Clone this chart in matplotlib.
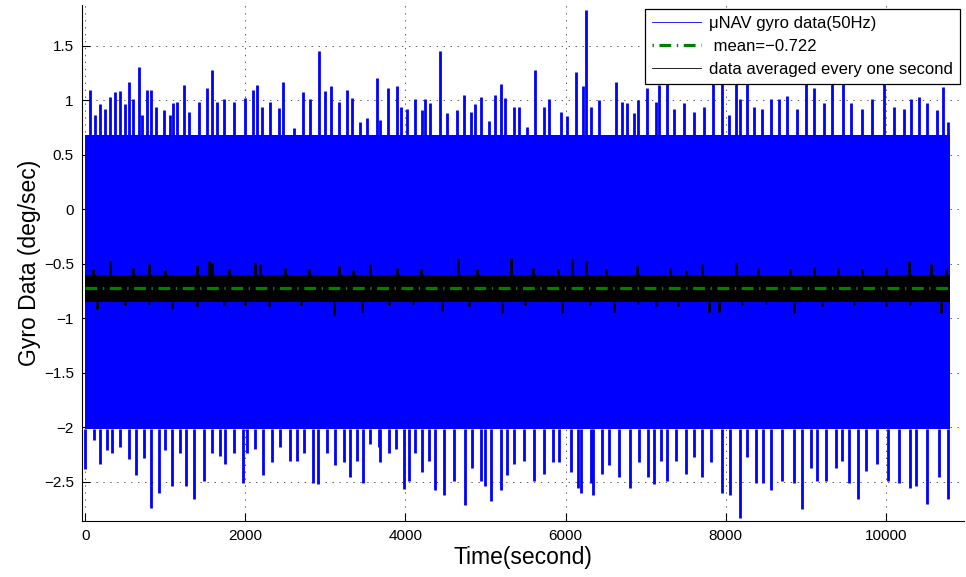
import numpy as np
import matplotlib.pyplot as plt
from matplotlib.lines import Line2D
from matplotlib.ticker import FuncFormatter

plt.rcParams['font.family'] = ['Liberation Sans', 'DejaVu Sans']
plt.rcParams['lines.scale_dashes'] = False

# --- data ---
T_END = 10800            # 3 h of 50 Hz gyro data
MEAN = -0.722

# dense part of the 50 Hz noise band (deg/sec)
BLUE_CORE = (-2.02, 0.68)

# upward spikes of the 50 Hz data (time s, value deg/sec)
UP_T = [54, 125, 188, 250, 313, 375, 438, 492, 550, 592, 667, 713, 771, 825, 888,
        979, 1054, 1096, 1146, 1229, 1292, 1417, 1521, 1588, 1646, 1729, 1854, 2000,
        2096, 2146, 2208, 2313, 2417, 2471, 2604, 2717, 2804, 2917, 3000, 3071, 3167,
        3271, 3333, 3438, 3521, 3583, 3646, 3688, 3783, 3896, 3950, 4021, 4125, 4208,
        4250, 4313, 4438, 4521, 4646, 4729, 4813, 4875, 4938, 5042, 5125, 5188, 5250,
        5354, 5417, 5521, 5613, 5729, 5792, 5938, 6021, 6125, 6217, 6250, 6313, 6417,
        6521, 6625, 6708, 6763, 6854, 6908, 7021, 7125, 7171, 7271, 7354, 7479, 7604,
        7729, 7846, 7950, 8042, 8125, 8179, 8263, 8354, 8458, 8563, 8667, 8771, 8896,
        9000, 9104, 9229, 9333, 9471, 9563, 9708, 9833, 9979, 10104, 10229, 10313,
        10417, 10521, 10646, 10721, 10783]
UP_V = [1.09, 0.86, 0.96, 0.92, 1.03, 1.07, 1.08, 0.96, 1.17, 1.01, 1.30, 0.86, 1.09,
        1.09, 0.94, 0.91, 0.86, 0.97, 0.98, 1.14, 0.89, 0.98, 1.11, 1.28, 0.98, 1.01,
        0.98, 1.02, 1.09, 1.14, 0.94, 0.98, 0.93, 1.17, 0.74, 1.07, 1.01, 1.45, 1.08,
        1.13, 0.98, 1.09, 1.02, 0.80, 0.84, 0.65, 1.20, 0.82, 1.11, 1.13, 0.94, 0.92,
        1.01, 0.91, 1.01, 0.97, 1.45, 0.88, 0.91, 1.05, 0.89, 0.96, 1.03, 0.81, 1.05,
        1.15, 1.02, 0.94, 0.94, 0.75, 1.28, 0.94, 1.01, 0.89, 0.85, 1.26, 1.13, 1.83,
        0.94, 1.00, 0.68, 1.17, 0.98, 0.97, 0.88, 1.00, 1.11, 0.98, 1.14, 1.20, 0.92,
        0.97, 0.89, 0.94, 1.25, 1.30, 0.86, 1.22, 1.01, 1.20, 0.94, 0.92, 1.01, 1.01,
        1.04, 0.92, 1.25, 1.11, 0.97, 1.22, 1.18, 0.97, 0.92, 1.01, 1.30, 0.94, 0.92,
        1.01, 1.03, 0.97, 0.91, 1.12, 0.80]

# downward spikes of the 50 Hz data
DN_T = [0, 104, 179, 271, 333, 438, 542, 638, 729, 825, 917, 1000, 1083, 1188, 1263,
        1354, 1479, 1583, 1688, 1750, 1854, 1967, 2021, 2117, 2225, 2333, 2438, 2563,
        2646, 2729, 2842, 2908, 3021, 3125, 3229, 3304, 3396, 3467, 3563, 3667, 3688,
        3792, 3888, 3979, 4042, 4125, 4208, 4292, 4375, 4488, 4604, 4750, 4833, 4938,
        5000, 5071, 5188, 5263, 5354, 5479, 5604, 5729, 5846, 5917, 6063, 6154, 6188,
        6313, 6346, 6458, 6542, 6667, 6804, 6917, 7029, 7104, 7188, 7271, 7375, 7500,
        7604, 7708, 7813, 7958, 8054, 8175, 8271, 8375, 8467, 8563, 8708, 8854, 8950,
        9063, 9146, 9250, 9375, 9458, 9542, 9654, 9750, 9896, 10029, 10167, 10304,
        10375, 10513, 10667, 10783]
DN_V = [-2.38, -2.12, -2.34, -2.21, -2.24, -2.18, -2.29, -2.44, -2.28, -2.74, -2.60,
        -2.21, -2.54, -2.24, -2.54, -2.66, -2.49, -2.24, -2.26, -2.34, -2.24, -2.51,
        -2.24, -2.20, -2.44, -2.32, -2.18, -2.31, -2.31, -2.24, -2.51, -2.52, -2.24,
        -2.35, -2.32, -2.46, -2.31, -2.51, -2.15, -2.18, -2.32, -2.24, -2.20, -2.57,
        -2.49, -2.24, -2.41, -2.31, -2.58, -2.62, -2.49, -2.71, -2.37, -2.49, -2.54,
        -2.68, -2.58, -2.44, -2.34, -2.31, -2.49, -2.43, -2.32, -2.32, -2.41, -2.56,
        -2.60, -2.51, -2.62, -2.43, -2.35, -2.46, -2.56, -2.32, -2.46, -2.52, -2.31,
        -2.49, -2.31, -2.43, -2.27, -2.46, -2.32, -2.60, -2.62, -2.83, -2.27, -2.51,
        -2.51, -2.58, -2.49, -2.51, -2.75, -2.37, -2.49, -2.49, -2.37, -2.31, -2.51,
        -2.66, -2.40, -2.34, -2.49, -2.51, -2.56, -2.54, -2.70, -2.46, -2.66]

# 1 s averaged data: dense band and its spikes
BLACK_CORE = (-0.85, -0.60)
BK_UP_T = [100, 304, 600, 800, 1000, 1396, 1542, 1583, 1800, 2125, 2188, 2500, 2800,
           3167, 3350, 3563, 3900, 4200, 4658, 4900, 5321, 5600, 5900, 6083, 6250,
           6500, 6896, 7300, 7500, 7708, 8125, 8400, 8800, 9100, 9400, 9700, 10000,
           10292, 10563, 10750]
BK_UP_V = [-0.55, -0.48, -0.54, -0.50, -0.56, -0.51, -0.48, -0.49, -0.55, -0.49, -0.50,
           -0.54, -0.55, -0.52, -0.56, -0.50, -0.54, -0.55, -0.45, -0.55, -0.45, -0.54,
           -0.55, -0.46, -0.48, -0.55, -0.52, -0.54, -0.56, -0.50, -0.49, -0.54, -0.55,
           -0.53, -0.54, -0.55, -0.54, -0.48, -0.50, -0.55]
BK_DN_T = [146, 500, 800, 1083, 1400, 1729, 2000, 2300, 2700, 3104, 3458, 3800, 4100,
           4458, 4800, 5208, 5500, 5958, 6300, 6604, 6900, 7125, 7400, 7792, 7917, 8200,
           8500, 8854, 9200, 9600, 10000, 10300, 10688]
BK_DN_V = [-0.92, -0.88, -0.87, -0.92, -0.89, -0.88, -0.88, -0.89, -0.88, -0.97, -0.94,
           -0.88, -0.87, -0.93, -0.89, -0.95, -0.88, -0.95, -0.88, -0.94, -0.87, -0.89,
           -0.89, -0.94, -0.94, -0.88, -0.87, -0.95, -0.89, -0.88, -0.89, -0.88, -0.95]

# --- figure ---
fig = plt.figure(figsize=(9.66, 5.77), dpi=100)
ax = fig.add_axes([0.085, 0.097, 0.913, 0.894])

blue = (0, 0, 1)
green = (0, 0.5, 0)

ax.fill_between([0, T_END], BLUE_CORE[0], BLUE_CORE[1], color=blue, lw=0)
ax.vlines(UP_T, BLUE_CORE[1], UP_V, colors=blue, lw=2.0)
ax.vlines(DN_T, DN_V, BLUE_CORE[0], colors=blue, lw=2.0)

ax.fill_between([0, T_END], BLACK_CORE[0], BLACK_CORE[1], color='k', lw=0)
ax.vlines(BK_UP_T, BLACK_CORE[1], BK_UP_V, colors='k', lw=2.0)
ax.vlines(BK_DN_T, BK_DN_V, BLACK_CORE[0], colors='k', lw=2.0)

ax.plot([0, T_END], [MEAN, MEAN], color=green, lw=2.3,
        linestyle=(0, (8.5, 4.0, 1.0, 4.0)))

ax.set_xlim(-40, 10980)
ax.set_ylim(-2.86, 1.87)
ax.set_xticks(np.arange(0, 10001, 2000))
ax.set_yticks(np.arange(-2.5, 1.51, 0.5))
ax.yaxis.set_major_formatter(FuncFormatter(lambda v, p: ('%g' % v).replace('-', '\u2212')))

for s in ['top', 'right']:
    ax.spines[s].set_visible(False)
for s in ['left', 'bottom']:
    ax.spines[s].set_linewidth(0.8)
ax.tick_params(direction='in', length=6, width=0.8, labelsize=11, pad=6)
ax.set_axisbelow(True)
ax.grid(True, linestyle=(0, (1, 4)), color='0.25', lw=0.6)

ax.set_xlabel('Time(second)', fontsize=16.5, labelpad=2)
ax.set_ylabel('Gyro Data (deg/sec)', fontsize=16.5, labelpad=2)

handles = [Line2D([], [], color=blue, lw=0.6),
           Line2D([], [], color=green, lw=2.3, linestyle=(0, (1.0, 4.0, 8.5, 4.0))),
           Line2D([], [], color='k', lw=0.6)]
labels = ['\u03bcNAV gyro data(50Hz)', ' mean=\u22120.722', 'data averaged every one second']
leg = ax.legend(handles, labels, loc='upper right', bbox_to_anchor=(960 / 966, 1 - 9 / 577),
                bbox_transform=fig.transFigure, borderaxespad=0, fontsize=12,
                fancybox=False, framealpha=1, edgecolor='k', handlelength=2.95,
                handletextpad=0.48, labelspacing=0.48, borderpad=0.42)
leg.get_frame().set_linewidth(0.9)
leg.set_zorder(10)

plt.savefig('out.png', dpi=100)
